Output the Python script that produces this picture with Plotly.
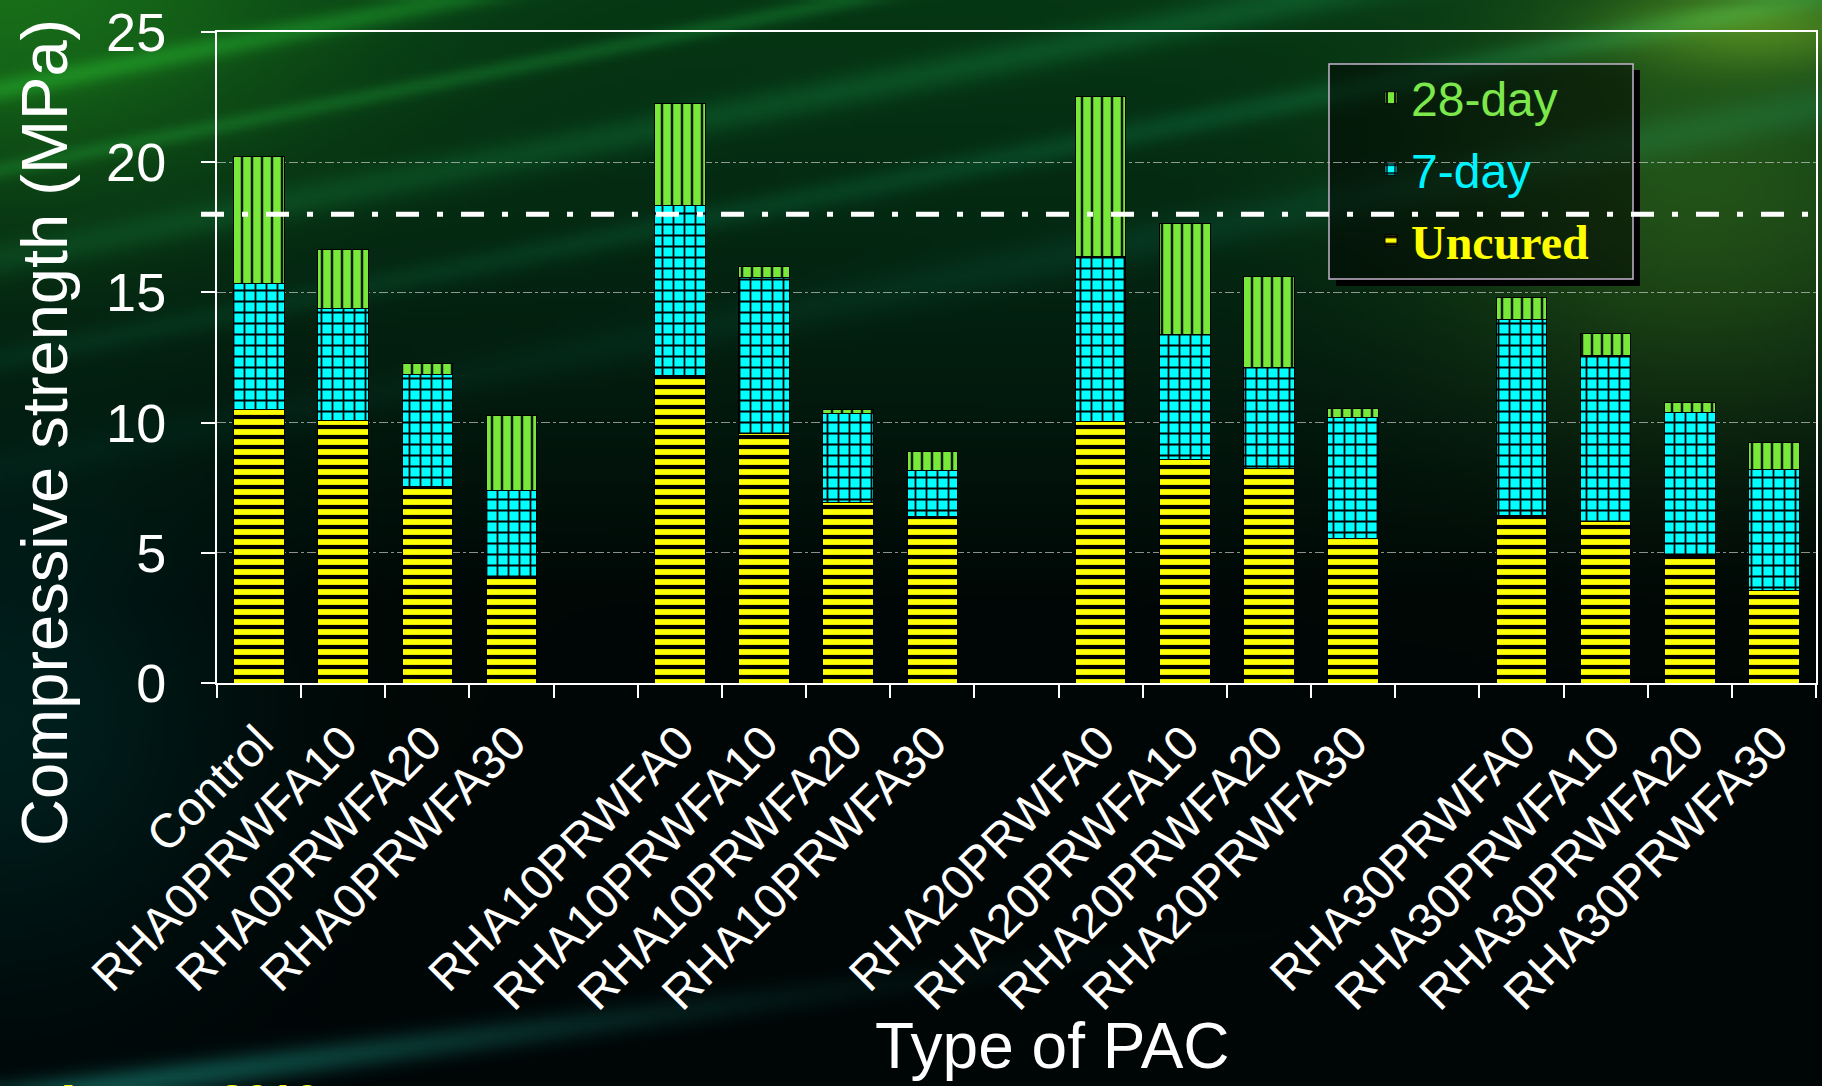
import base64, struct, zlib
import numpy as np
import plotly.graph_objects as go

# ---------------- data ----------------
categories = ["Control", "RHA0PRWFA10", "RHA0PRWFA20", "RHA0PRWFA30", " ",
              "RHA10PRWFA0", "RHA10PRWFA10", "RHA10PRWFA20", "RHA10PRWFA30", "  ",
              "RHA20PRWFA0", "RHA20PRWFA10", "RHA20PRWFA20", "RHA20PRWFA30", "   ",
              "RHA30PRWFA0", "RHA30PRWFA10", "RHA30PRWFA20", "RHA30PRWFA30"]
uncured = [10.50, 10.10, 7.56, 4.10, None, 11.82, 9.57, 6.93, 6.38, None,
           10.06, 8.59, 8.22, 5.54, None, 6.43, 6.19, 4.93, 3.56]
gain_7day = [4.83, 4.30, 4.29, 3.30, None, 6.52, 6.00, 3.42, 1.77, None,
             6.32, 4.81, 3.90, 4.64, None, 7.53, 6.37, 5.45, 4.63]
gain_28day = [4.87, 2.25, 0.41, 2.87, None, 3.91, 0.44, 0.15, 0.73, None,
              6.13, 4.23, 3.48, 0.35, None, 0.83, 0.85, 0.41, 1.06]
threshold = 18
y_ticks = [0, 5, 10, 15, 20, 25]

W_FIG, H_FIG = 1822, 1086
ML, MR, MT, MB = 217, 6, 32, 403
PW, PH = W_FIG - ML - MR, H_FIG - MT - MB


def px_x(x):
    return (x - ML) / PW


def px_y(y):
    return (H_FIG - MB - y) / PH


# ---------------- background image (decoration) ----------------
def make_bg():
    H, W = 217, 364
    Y = (np.arange(H)[:, None] + 0.5) * H_FIG / H
    X = (np.arange(W)[None, :] + 0.5) * W_FIG / W
    Y = np.broadcast_to(Y, (H, W))
    X = np.broadcast_to(X, (H, W))
    stops_y = [0, 200, 420, 600, 1086]
    stops_c = [(6, 55, 20), (4, 42, 18), (2, 24, 13), (0, 7, 5), (0, 5, 6)]
    img = np.zeros((H, W, 3))
    for k in range(3):
        img[..., k] = np.interp(Y, stops_y, [c[k] for c in stops_c])
    u = Y + 0.2 * X
    fade = np.exp(-(Y / 400) ** 2)
    for uc, w, col in [(90, 12, (10, 45, 12)), (170, 9, (8, 35, 14)), (260, 18, (6, 30, 18)),
                       (360, 14, (4, 28, 20)), (470, 22, (3, 22, 20))]:
        g = np.exp(-((u - uc) / w) ** 2) * fade
        for k in range(3):
            img[..., k] += col[k] * g
    g = np.exp(-((X / 330) ** 2 + (Y / 200) ** 2))
    for k, c in enumerate((18, 55, 5)):
        img[..., k] += c * g
    g = np.exp(-((X / 240) ** 2 + ((Y - 720) / 250) ** 2))
    for k, c in enumerate((0, 25, 24)):
        img[..., k] += c * g
    u2 = Y + 0.13 * X
    g = np.exp(-((u2 - 1100) / 16) ** 2) * np.exp(-(X / 650) ** 2)
    for k, c in enumerate((14, 70, 62)):
        img[..., k] += c * g
    g = np.exp(-(((X - 1700) / 260) ** 2 + ((Y - 200) / 220) ** 2))
    for k, c in enumerate((30, 40, 6)):
        img[..., k] += c * g
    g = np.exp(-(((X - 1760) / 150) ** 2 + ((Y - 25) / 45) ** 2))
    for k, c in enumerate((55, 60, 10)):
        img[..., k] += c * g
    arr = np.clip(img, 0, 255).astype(np.uint8)
    raw = b"".join(b"\x00" + arr[i].tobytes() for i in range(H))

    def chunk(t, d):
        c = struct.pack(">I", len(d)) + t + d
        return c + struct.pack(">I", zlib.crc32(t + d) & 0xFFFFFFFF)

    png = (b"\x89PNG\r\n\x1a\n" + chunk(b"IHDR", struct.pack(">IIBBBBB", W, H, 8, 2, 0, 0, 0))
           + chunk(b"IDAT", zlib.compress(raw, 9)) + chunk(b"IEND", b""))
    return "data:image/png;base64," + base64.b64encode(png).decode()


GREEN = "#78e83a"
CYAN = "#00ffff"
YELLOW = "#ffff00"
FONT = "Liberation Sans, Arial, sans-serif"

fig = go.Figure()
fig.add_trace(go.Bar(
    x=categories, y=uncured, legendgroup="u", legendrank=3,
    name="<span style='font-family:Liberation Serif, Times New Roman, serif;color:#ffff00'><b>Uncured</b></span>",
    marker=dict(color=YELLOW, line=dict(color="#000000", width=1),
                pattern=dict(shape="-", bgcolor=YELLOW, fgcolor="#000000", size=10,
                             solidity=0.42, fillmode="replace"))))
fig.add_trace(go.Bar(
    x=categories, y=gain_7day, legendgroup="s", legendrank=2,
    name="<span style='color:#00f4ff'>7-day</span>",
    marker=dict(color=CYAN, line=dict(color="#000000", width=1),
                pattern=dict(shape="+", bgcolor=CYAN, fgcolor="#000000", size=11,
                             solidity=0.3, fillmode="replace"))))
fig.add_trace(go.Bar(
    x=categories, y=gain_28day, legendgroup="t", legendrank=1,
    name="<span style='color:#7de84c'>28-day</span>",
    marker=dict(color=GREEN, line=dict(color="#000000", width=1),
                pattern=dict(shape="|", bgcolor=GREEN, fgcolor="#0a1a05", size=10,
                             solidity=0.25, fillmode="replace"))))

shapes = [
    dict(type="rect", xref="paper", yref="paper", x0=px_x(1633), x1=px_x(1640),
         y0=px_y(286), y1=px_y(70), fillcolor="#000000", line_width=0, layer="below"),
    dict(type="rect", xref="paper", yref="paper", x0=px_x(1336), x1=px_x(1640),
         y0=px_y(286), y1=px_y(279), fillcolor="#000000", line_width=0, layer="below"),
    dict(type="rect", xref="paper", yref="paper", x0=px_x(1329), x1=px_x(1633),
         y0=px_y(279), y1=px_y(64), fillcolor="rgba(0,0,0,0.5)",
         line=dict(color="#c4b4cc", width=1.5), layer="below"),
    dict(type="line", xref="paper", yref="y", x0=-0.01, x1=1.01, y0=threshold, y1=threshold,
         line=dict(color="#ffffff", width=5, dash="23px,18px,6px,18px"), layer="above"),
]

annotations = [
    dict(text="Compressive strength (MPa)", textangle=-90, xref="paper", yref="paper",
         x=px_x(44), y=px_y(433), xanchor="center", yanchor="middle", showarrow=False,
         font=dict(family=FONT, size=65, color="#ffffff")),
    dict(text="Type of PAC", xref="paper", yref="paper", x=px_x(1052), y=px_y(1046),
         xanchor="center", yanchor="middle", showarrow=False,
         font=dict(family=FONT, size=64, color="#ffffff")),
    dict(text="<b>August 2010</b>", xref="paper", yref="paper", x=px_x(50), y=px_y(1073),
         xanchor="left", yanchor="top", showarrow=False,
         font=dict(family=FONT, size=45, color="#ffff00")),
]

fig.update_layout(
    width=W_FIG, height=H_FIG,
    margin=dict(l=ML, r=MR, t=MT, b=MB, autoexpand=False),
    paper_bgcolor="#000000", plot_bgcolor="rgba(0,0,0,0)",
    barmode="stack", bargap=0.4,
    font=dict(family=FONT, color="#ffffff"),
    images=[dict(source=make_bg(), xref="paper", yref="paper",
                 x=px_x(0), y=px_y(0), sizex=W_FIG / PW, sizey=H_FIG / PH,
                 xanchor="left", yanchor="top", sizing="stretch", layer="below")],
    shapes=shapes, annotations=annotations,
    legend=dict(x=px_x(1371), y=px_y(60), xanchor="left", yanchor="top",
                bgcolor="rgba(0,0,0,0)", borderwidth=0, traceorder="grouped",
                tracegroupgap=6, font=dict(family=FONT, size=48, color="#ffffff")),
    showlegend=True,
)
fig.update_xaxes(type="category", tickson="boundaries", ticks="outside", ticklen=13,
                 tickcolor="#ffffff", tickwidth=1.5, showline=True, linecolor="#ffffff",
                 linewidth=2, mirror=True, tickangle=-45, showgrid=False,
                 tickfont=dict(family=FONT, size=48, color="#ffffff"),
                 ticklabelstandoff=10)
fig.update_yaxes(range=[0, 25], tickvals=y_ticks, ticks="outside", ticklen=14,
                 tickcolor="#ffffff", tickwidth=1.5, showline=True, linecolor="#ffffff",
                 linewidth=2, mirror=True, showgrid=True, gridcolor="rgba(200,200,200,0.7)",
                 gridwidth=1, griddash="dashdot", zeroline=False,
                 tickfont=dict(family=FONT, size=54, color="#ffffff"),
                 ticklabelstandoff=24)

fig.write_html("out.html", config={"displayModeBar": False},
               post_script="document.body.style.margin='0';document.body.style.overflow='hidden';"
                           "document.body.style.background='#000';")
